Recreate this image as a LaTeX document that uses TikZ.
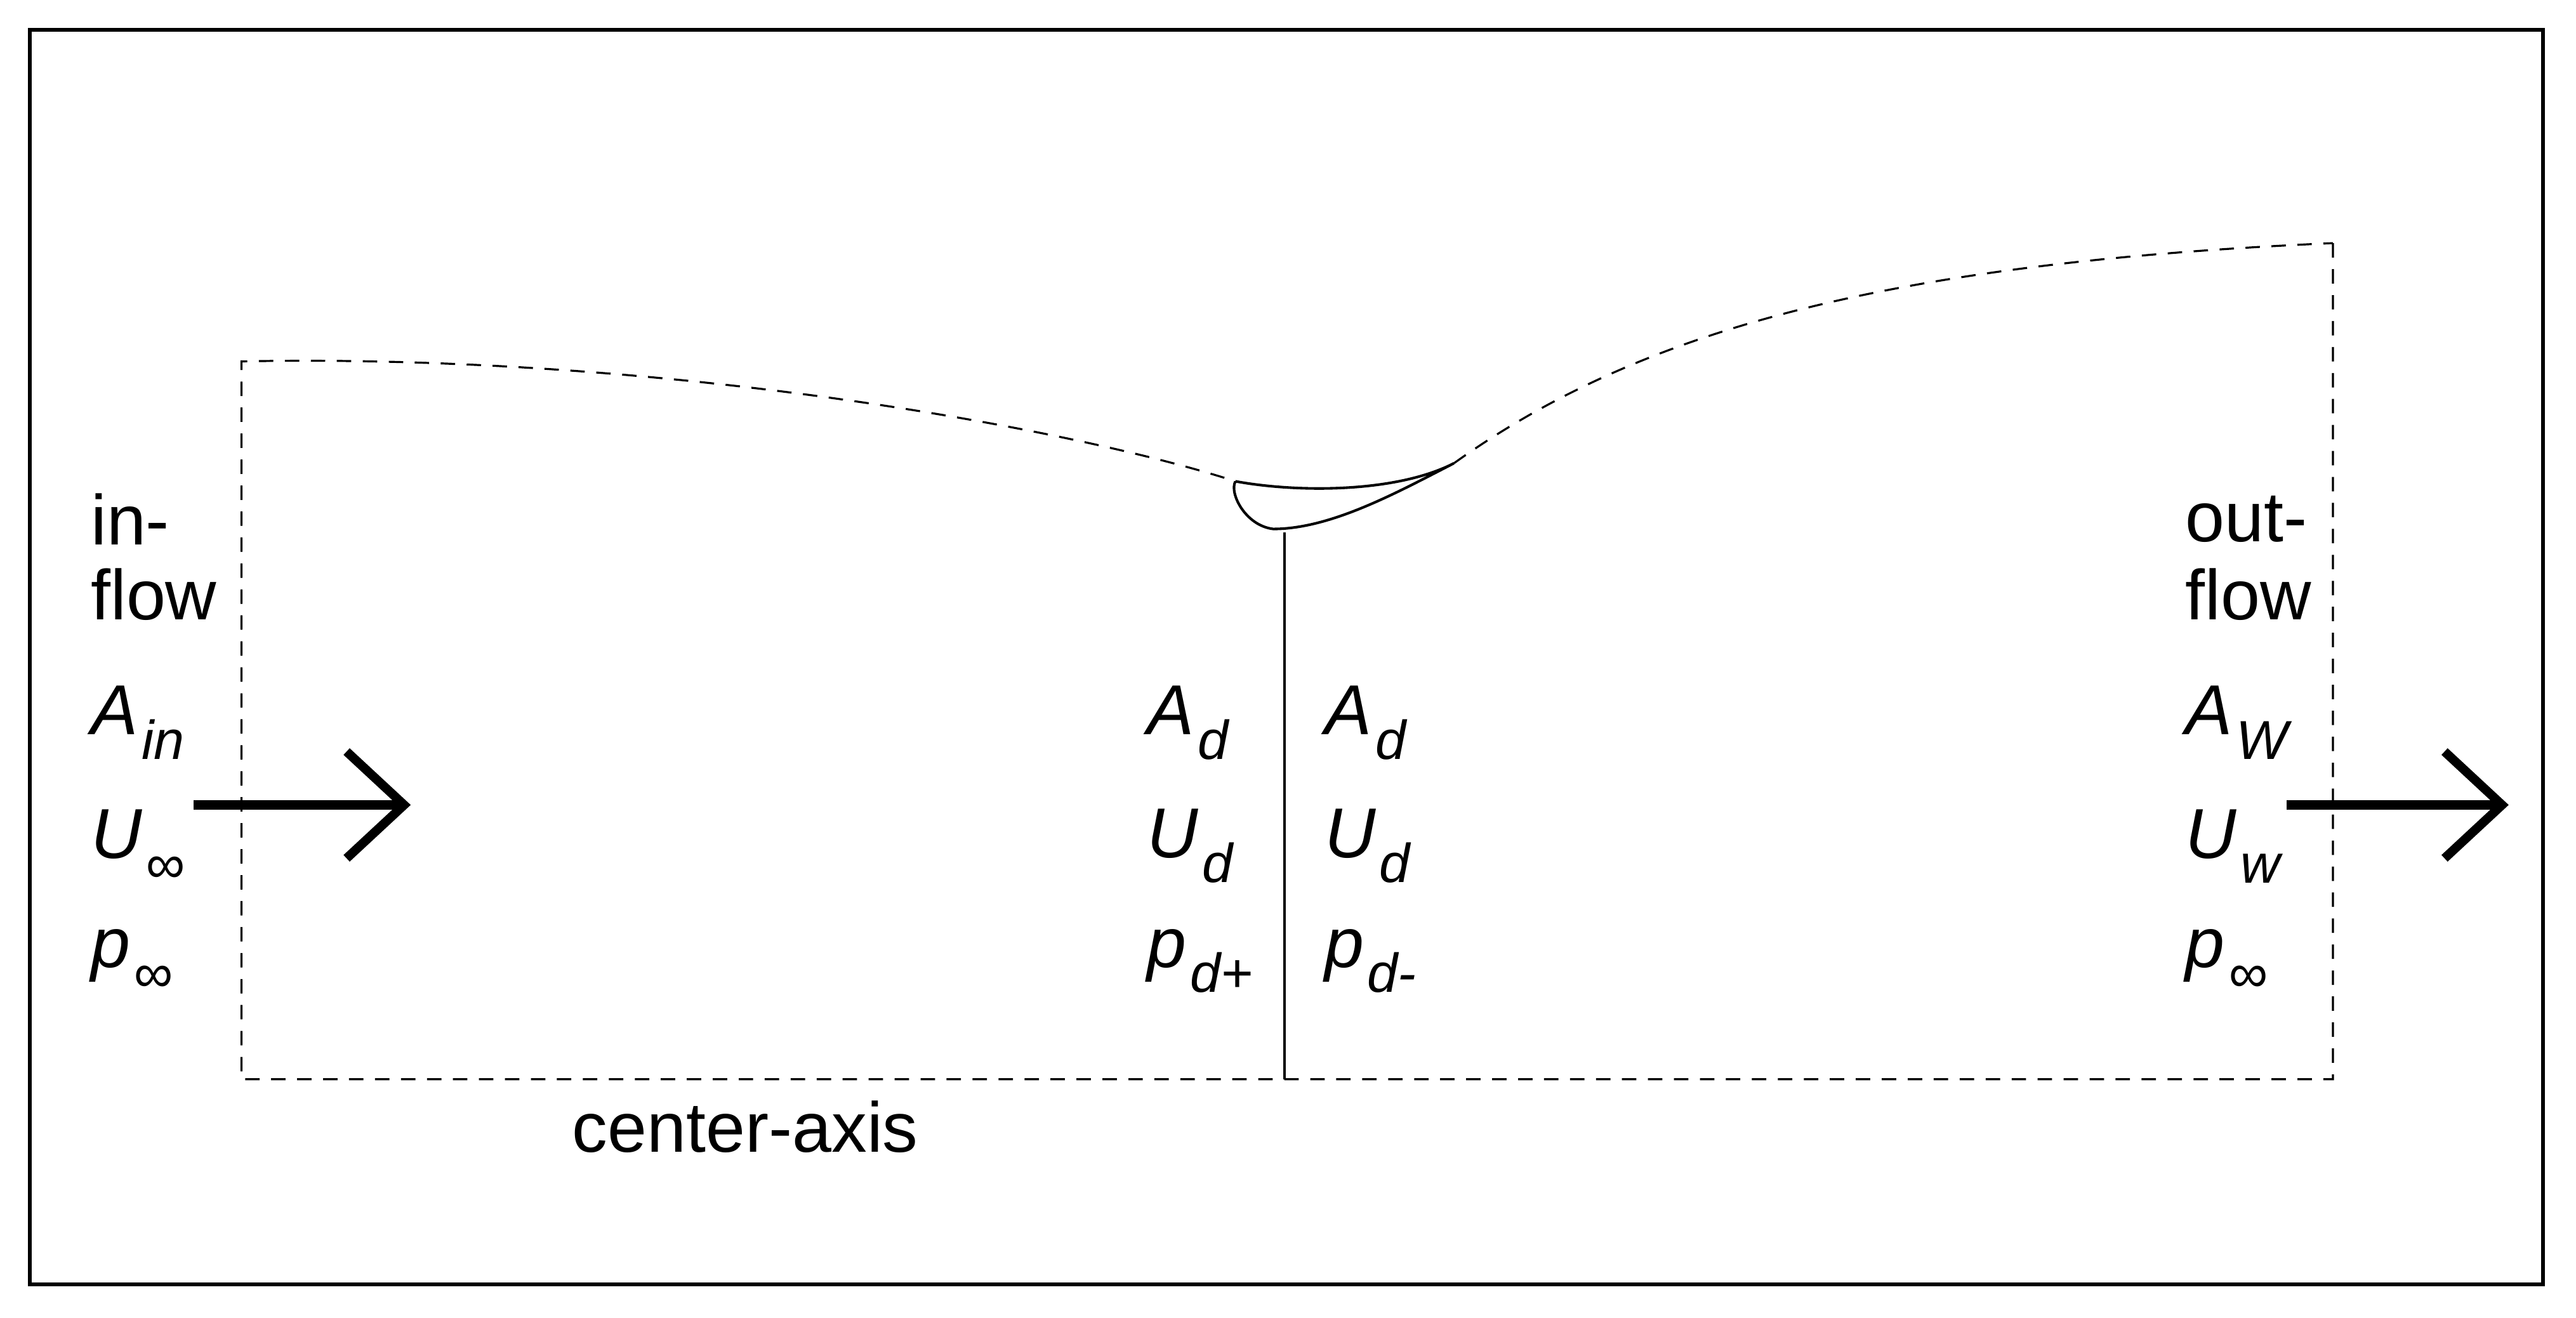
\documentclass[tikz,border=0pt]{standalone}
\usepackage{fontspec}
\setmainfont{Liberation Sans}
\usetikzlibrary{arrows.meta}
\newcommand{\lbl}[2]{\textit{#1}\raisebox{-0.35em}{\kern0.05em\fontsize{19}{22}\selectfont\textit{#2}}}
\begin{document}
\begin{tikzpicture}[x=0.02cm,y=-0.02cm,
  txt/.style={anchor=west,font=\fontsize{24.5}{28}\selectfont,inner sep=0pt},
  flowarrow/.style={line width=0.11cm,-{Straight Barb[length=0.7cm,width=1.3cm,line width=0.11cm]}},
  bound/.style={dashed,line width=0.7pt,dash pattern=on 5pt off 4pt}]
\useasboundingbox (0,0) rectangle (1568,802);
\draw[line width=1.3pt] (18,18) rectangle (1548,782);
% control volume
\coordinate (tl) at (147,220);
\coordinate (bl) at (147,657);
\coordinate (br) at (1420,657);
\coordinate (tr) at (1420,148);
\coordinate (bm) at (782,657);
\coordinate (hub) at (782,324);
\draw[bound] (tr) -- (br) -- (bl) -- (tl)
  .. controls (400,215) and (650,260) .. (752,293);
\draw[bound] (885,282) .. controls (1000,200) and (1150,160) .. (tr);
% blade
\draw[line width=0.9pt] (752,293) .. controls (790,300) and (850,300) .. (885,282)
  .. controls (850,300) and (810,322) .. (775,322)
  .. controls (758,320) and (748,300) .. (752,293);
\draw[line width=0.9pt] (hub) -- (bm);
% labels left
\node[txt] at (55,316) {in-};
\node[txt] at (55,362) {flow};
\node[txt] at (55,440) {\lbl{A}{in}};
\node[txt] at (55,515) {\lbl{U}{∞}};
\node[txt] at (55,585) {\lbl{p}{∞}};
\coordinate (a1s) at (118,490);
\coordinate (a1e) at (250,490);
\draw[flowarrow] (a1s) -- (a1e);
% middle
\node[txt] at (698,440) {\lbl{A}{d}};
\node[txt] at (698,515) {\lbl{U}{d}};
\node[txt] at (698,585) {\lbl{p}{d+}};
\node[txt] at (806,440) {\lbl{A}{d}};
\node[txt] at (806,515) {\lbl{U}{d}};
\node[txt] at (806,585) {\lbl{p}{d-}};
% right
\node[txt] at (1330,316) {out-};
\node[txt] at (1330,362) {flow};
\node[txt] at (1330,440) {\lbl{A}{W}};
\node[txt] at (1330,515) {\lbl{U}{w}};
\node[txt] at (1330,585) {\lbl{p}{∞}};
\coordinate (a2s) at (1392,490);
\coordinate (a2e) at (1527,490);
\draw[flowarrow] (a2s) -- (a2e);
\node[txt] at (348,686) {center-axis};
\end{tikzpicture}
\end{document}
